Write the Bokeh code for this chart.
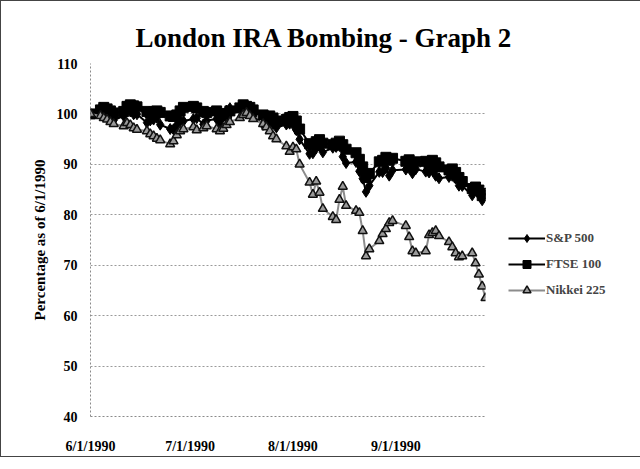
import pandas as pd
from bokeh.plotting import figure
from bokeh.models import (Range1d, FixedTicker, CustomJSTickFormatter,
                          Legend, LegendItem, ColumnDataSource)
from bokeh.embed import file_html
from bokeh.resources import INLINE

# ---------------- data (percent of 6/1/1990 level) ----------------
trading_days = [d for d in pd.bdate_range("1990-06-01", "1990-09-28")
                if d.strftime("%m-%d") not in ("07-04", "09-03")]

sp500 = [100.0, 101.17, 100.96, 100.50, 100.0, 98.77, 99.58, 100.85, 100.48, 99.93, 99.93,
         98.27, 98.71, 98.88, 99.26, 97.87, 97.01, 96.94, 97.79, 98.48, 98.58,
         99.00, 99.17, 97.94, 98.69, 99.00, 98.16, 99.47, 100.63, 101.14, 101.59,
         101.20, 100.29, 100.59, 99.57, 97.84, 97.97, 98.33, 98.00, 97.32, 97.90, 98.07,
         97.90, 96.78, 94.96, 92.09, 92.20, 93.17, 93.61, 92.39, 93.30, 93.45, 93.64,
         91.53, 90.27, 90.46, 88.63, 87.17, 84.55, 85.78, 88.51, 88.48, 89.27, 87.76, 88.82,
         88.97, 89.32, 88.24, 89.05, 88.56, 88.40, 88.81, 87.74, 87.24, 87.50,
         87.73, 87.18, 85.77, 85.72, 83.87, 84.88, 84.00, 82.88, 84.27]

ftse100 = [100.0, 100.8, 101.3, 101.0, 100.6, 100.2, 100.5, 101.5, 101.8, 101.6, 101.4,
           100.5, 100.2, 100.4, 100.6, 100.3, 99.6, 99.5, 99.8, 100.6, 101.3,
           101.5, 101.2, 100.5, 100.3, 100.6, 99.9, 99.6, 100.1, 100.6, 101.2,
           101.8, 101.5, 101.3, 100.8, 99.8, 99.4, 99.6, 99.2, 98.6, 98.9, 99.3,
           99.5, 98.6, 97.0, 94.1, 93.9, 94.5, 94.9, 94.2, 93.9, 94.2, 94.6,
           93.9, 93.0, 92.3, 91.0, 89.5, 87.4, 88.2, 90.5, 90.8, 91.4, 90.8, 91.2,
           90.6, 90.9, 90.2, 90.5, 90.6, 90.2, 90.8, 90.3, 89.5, 88.9,
           89.1, 88.4, 87.4, 86.6, 85.2, 85.5, 84.9, 83.8, 84.2]

nikkei225 = [100.0, 99.6, 99.2, 98.9, 98.4, 98.0, 97.6, 98.2, 97.8, 97.2, 96.9,
             96.6, 96.0, 95.6, 95.1, 94.8, 94.0, 94.6, 95.8, 96.6, 97.0,
             97.4, 96.8, 97.2, 97.6, 97.0, 96.6, 97.1, 97.8, 98.4, 99.2,
             99.8, 100.2, 99.6, 99.0, 98.0, 97.4, 96.6, 95.6, 95.0, 93.6, 92.5,
             93.4, 93.0, 90.0, 86.4, 84.0, 86.6, 84.4, 81.2, 79.6, 79.0, 83.0,
             85.6, 81.8, 80.8, 80.4, 76.8, 71.8, 73.2, 74.8, 76.2, 77.2, 78.4, 78.8,
             77.8, 75.6, 72.8, 72.4, 72.8, 76.0, 76.4, 76.8, 75.8, 74.6,
             73.6, 72.4, 71.6, 71.8, 72.4, 70.4, 68.2, 65.8, 63.5]

month_ticks = ["1990-06-01", "1990-07-01", "1990-08-01", "1990-09-01"]
y_ticks = [40, 50, 60, 70, 80, 90, 100, 110]
series_names = ["S&P 500", "FTSE 100", "Nikkei 225"]
title_text = "London IRA Bombing - Graph 2"

# ---------------- figure ----------------
FONT = "Liberation Serif"
FW, FH = 395, 353
L, R, T, B = 89, 140, 62, 40

src = ColumnDataSource(dict(date=trading_days, sp=sp500, ftse=ftse100, nk=nikkei225))

p = figure(frame_width=FW, frame_height=FH, x_axis_type="datetime", output_backend="svg",
           toolbar_location=None, tools="",
           x_range=Range1d(trading_days[0], trading_days[-1]),
           y_range=Range1d(40, 110),
           min_border_left=L, min_border_right=R, min_border_top=T, min_border_bottom=B)
p.styles = {"border": "1px solid #444444"}
p.outline_line_color = None
p.background_fill_color = "white"
p.border_fill_color = "white"

# title
p.title.text = title_text
p.title.align = "left"
p.title.vertical_align = "top"
p.title.offset = 45
p.title.standoff = 18
p.title.text_font = FONT
p.title.text_font_style = "bold"
p.title.text_font_size = "27px"
p.title.text_color = "black"

# axes
tick_ms = [pd.Timestamp(t).value // 10**6 for t in month_ticks]
p.xaxis.ticker = FixedTicker(ticks=tick_ms)
p.xaxis.formatter = CustomJSTickFormatter(code="""
const d = new Date(tick);
return (d.getUTCMonth()+1) + "/" + d.getUTCDate() + "/" + d.getUTCFullYear();
""")
p.yaxis.ticker = FixedTicker(ticks=y_ticks)
p.yaxis.axis_label = "Percentage as of 6/1/1990"

for ax in (p.xaxis[0], p.yaxis[0]):
    ax.major_tick_line_color = None
    ax.minor_tick_line_color = None
    ax.major_tick_out = 0
    ax.major_tick_in = 0
    ax.axis_line_color = "#8a8a8a"
    ax.axis_line_dash = "2 2"
    ax.major_label_text_font = FONT
    ax.major_label_text_font_style = "bold"
    ax.major_label_text_font_size = "14px"
    ax.major_label_text_color = "black"
p.xaxis.major_label_standoff = 22
p.yaxis.major_label_standoff = 13
p.yaxis.axis_label_text_font = FONT
p.yaxis.axis_label_text_font_style = "bold"
p.yaxis.axis_label_text_font_size = "15px"
p.yaxis.axis_label_text_color = "black"
p.yaxis.axis_label_standoff = 6

p.xgrid.visible = False
p.ygrid.grid_line_color = "#9a9a9a"
p.ygrid.grid_line_dash = "2 2"
p.ygrid.grid_line_width = 1

# series
l_sp = p.line("date", "sp", source=src, line_color="black", line_width=2)
m_sp = p.scatter("date", "sp", source=src, marker="diamond", size=11,
                 fill_color="black", line_color="black")
l_ft = p.line("date", "ftse", source=src, line_color="black", line_width=2)
m_ft = p.scatter("date", "ftse", source=src, marker="square", size=10,
                 fill_color="black", line_color="black")
l_nk = p.line("date", "nk", source=src, line_color="#8c8c8c", line_width=2)
m_nk = p.scatter("date", "nk", source=src, marker="triangle", size=9,
                 fill_color="#9a9a9a", line_color="#111111", line_width=1.5)

# legend (right side panel)
legend = Legend(items=[LegendItem(label=series_names[0], renderers=[l_sp, m_sp]),
                       LegendItem(label=series_names[1], renderers=[l_ft, m_ft]),
                       LegendItem(label=series_names[2], renderers=[l_nk, m_nk])],
                location="center_left", glyph_width=37, glyph_height=20,
                label_height=20, spacing=6, padding=0, margin=23,
                title=" ", title_text_font_size="14px", title_standoff=32,
                label_standoff=1, border_line_color=None,
                background_fill_alpha=0, label_text_font=FONT,
                label_text_font_style="bold", label_text_font_size="13px")
p.add_layout(legend, "right")

open("out.html", "w").write(file_html(p, INLINE))
